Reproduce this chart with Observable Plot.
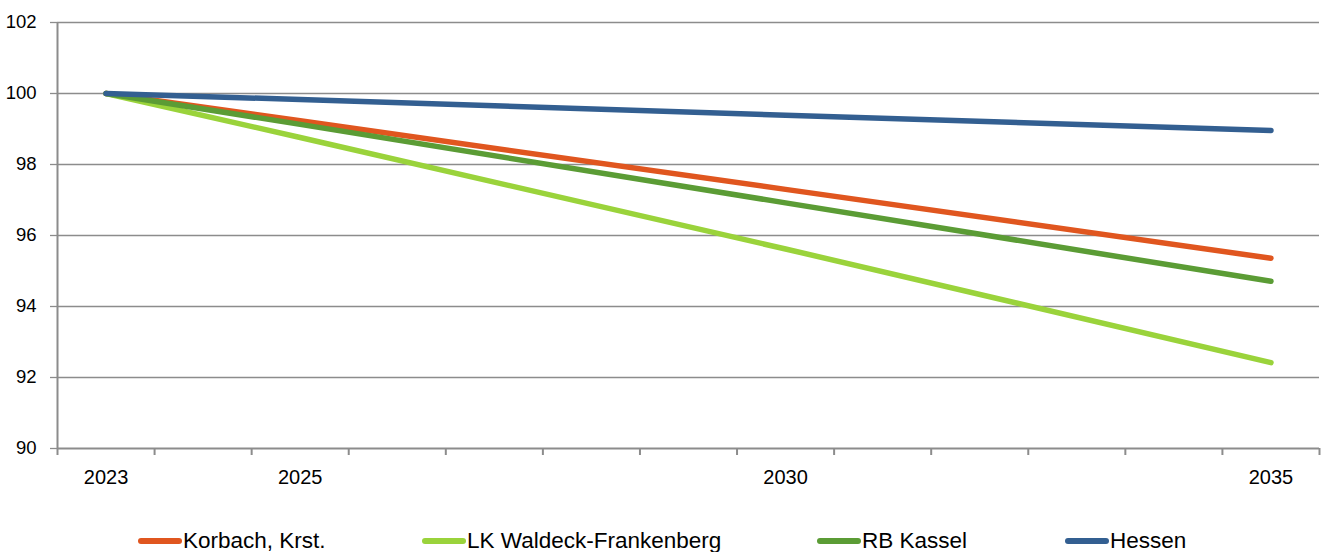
<!DOCTYPE html>
<html>
<head>
<meta charset="utf-8">
<script src="https://cdn.jsdelivr.net/npm/d3@7"></script>
<script src="https://cdn.jsdelivr.net/npm/@observablehq/plot@0.6"></script>
<style>
  html, body { margin: 0; padding: 0; background: #fff; }
  #wrap { position: relative; width: 1330px; height: 552px; overflow: hidden;
          font-family: "Liberation Sans Narrow", "Arial Narrow", "Liberation Sans", Arial, sans-serif; }
  #chart { position: absolute; left: 0; top: 0; }
  .leg { position: absolute; top: 527px; display: flex; align-items: center; white-space: nowrap;
         font-size: 22.5px; color: #000; line-height: 28px; }
  .sw { width: 44px; height: 6px; border-radius: 3px; margin-right: 1px; }
</style>
</head>
<body>
<div id="wrap">
  <div id="chart"></div>
  <div id="legend"></div>
</div>
<script>
// Years on the category axis
const years = [2023, 2024, 2025, 2026, 2027, 2028, 2029, 2030, 2031, 2032, 2033, 2034, 2035];
const labelYears = [2023, 2025, 2030, 2035];
const yTicks = [90, 92, 94, 96, 98, 100, 102];

// Series (index 2023 = 100), values read at the labelled years
const seriesNames = ["Korbach, Krst.", "LK Waldeck-Frankenberg", "RB Kassel", "Hessen"];
const seriesColors = ["#E0561F", "#9AD33B", "#5B9C35", "#335F91"];
const korbach = [100, 99.23, 97.30, 95.36];
const waldeck = [100, 98.76, 95.62, 92.42];
const kassel  = [100, 99.13, 96.92, 94.71];
const hessen  = [100, 99.83, 99.39, 98.96];

const seriesValues = [korbach, waldeck, kassel, hessen];
const data = [];
seriesNames.forEach((name, i) => {
  labelYears.forEach((yr, j) => data.push({series: name, year: yr, value: seriesValues[i][j]}));
});

const boundaries = years.map(y => y - 0.5).concat([years[years.length - 1] + 0.5]);

const chart = Plot.plot({
  width: 1330,
  height: 500,
  marginLeft: 57,
  marginRight: 11,
  marginTop: 22,
  marginBottom: 52,
  style: {fontFamily: '"Liberation Sans Narrow", "Arial Narrow", "Liberation Sans", Arial, sans-serif', fontSize: "19px", color: "#000", background: "#fff"},
  x: {domain: [years[0] - 0.5, years[years.length - 1] + 0.5]},
  y: {domain: [90, 102]},
  color: {domain: seriesNames, range: seriesColors},
  marks: [
    Plot.gridY(yTicks.filter(d => d > 90), {stroke: "#8c8c8c", strokeOpacity: 1, strokeWidth: 1.3}),
    Plot.axisY(yTicks, {tickSize: 7, tickPadding: 14, stroke: "#8c8c8c", strokeWidth: 1.3, tickFormat: d => d, label: null, fontSize: 18.5}),
    Plot.ruleX([years[0] - 0.5], {stroke: "#8c8c8c", strokeWidth: 2}),
    Plot.ruleY([90], {stroke: "#8c8c8c", strokeWidth: 2}),
    Plot.axisX(boundaries, {tickSize: 7, stroke: "#8c8c8c", strokeWidth: 2, tickFormat: () => "", label: null}),
    Plot.axisX(labelYears, {tickSize: 0, tickPadding: 21, tickFormat: d => String(d), label: null, fontSize: 20}),
    Plot.line(data, {x: "year", y: "value", z: "series", stroke: "series", strokeWidth: 5.5, strokeLinecap: "round", strokeLinejoin: "round"})
  ]
});
document.getElementById("chart").appendChild(chart);

// Legend
const legendLeft = [138, 422, 817, 1065];
const legend = document.getElementById("legend");
seriesNames.forEach((name, i) => {
  const item = document.createElement("div");
  item.className = "leg";
  item.style.left = legendLeft[i] + "px";
  const sw = document.createElement("div");
  sw.className = "sw";
  sw.style.background = seriesColors[i];
  const t = document.createElement("span");
  t.textContent = name;
  item.appendChild(sw);
  item.appendChild(t);
  legend.appendChild(item);
});
</script>
</body>
</html>
